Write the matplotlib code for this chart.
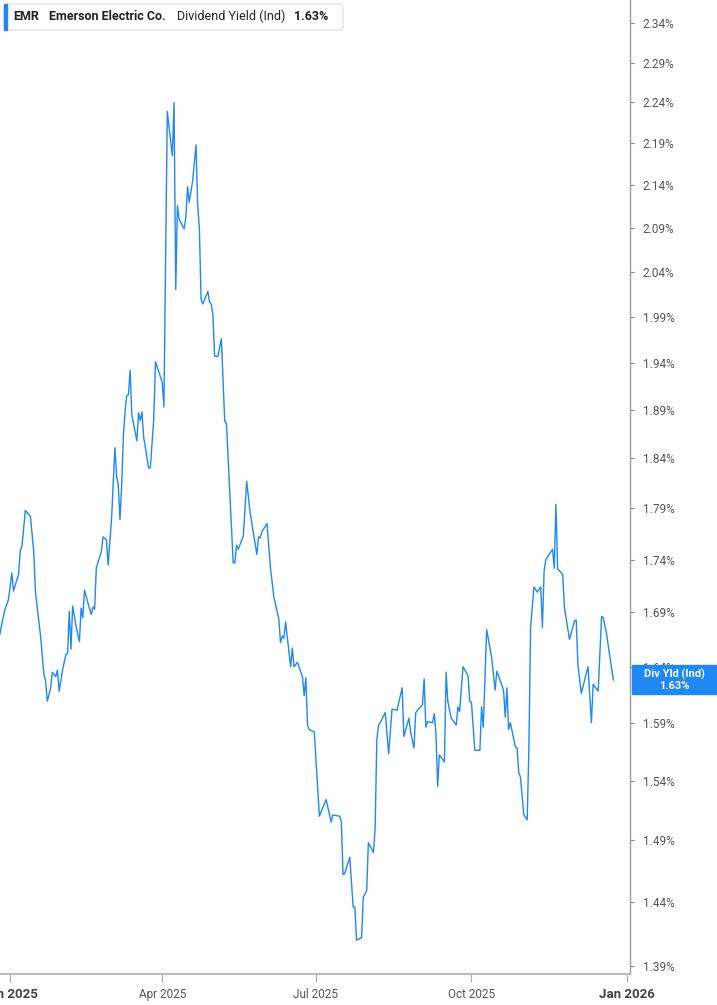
import matplotlib
matplotlib.use("Agg")
import matplotlib.pyplot as plt
import matplotlib.dates as mdates
from matplotlib.ticker import FixedLocator, FuncFormatter, NullLocator
from matplotlib.patches import FancyBboxPatch, Rectangle
import pandas as pd

plt.rcParams['font.family'] = ['Roboto', 'DejaVu Sans']

dates = [
    "2024-12-26", "2024-12-27", "2024-12-29", "2024-12-31", "2025-01-02", "2025-01-03",
    "2025-01-06", "2025-01-07", "2025-01-08", "2025-01-10", "2025-01-13", "2025-01-15",
    "2025-01-16", "2025-01-19", "2025-01-21", "2025-01-22", "2025-01-23", "2025-01-25",
    "2025-01-26", "2025-01-28", "2025-01-29", "2025-01-30", "2025-02-01", "2025-02-03",
    "2025-02-04", "2025-02-05", "2025-02-06", "2025-02-07", "2025-02-09", "2025-02-11",
    "2025-02-12", "2025-02-13", "2025-02-14", "2025-02-16", "2025-02-18", "2025-02-19",
    "2025-02-20", "2025-02-21", "2025-02-24", "2025-02-25", "2025-02-27", "2025-02-28",
    "2025-03-02", "2025-03-04", "2025-03-05", "2025-03-06", "2025-03-07", "2025-03-08",
    "2025-03-09", "2025-03-10", "2025-03-11", "2025-03-12", "2025-03-13", "2025-03-14",
    "2025-03-17", "2025-03-18", "2025-03-19", "2025-03-20", "2025-03-21", "2025-03-24",
    "2025-03-25", "2025-03-27", "2025-03-28", "2025-04-01", "2025-04-02", "2025-04-04",
    "2025-04-07", "2025-04-08", "2025-04-09", "2025-04-10", "2025-04-11", "2025-04-14",
    "2025-04-15", "2025-04-16", "2025-04-17", "2025-04-19", "2025-04-21", "2025-04-22",
    "2025-04-23", "2025-04-24", "2025-04-25", "2025-04-28", "2025-04-29", "2025-04-30",
    "2025-05-01", "2025-05-02", "2025-05-04", "2025-05-06", "2025-05-08", "2025-05-09",
    "2025-05-13", "2025-05-14", "2025-05-15", "2025-05-16", "2025-05-19", "2025-05-21",
    "2025-05-23", "2025-05-27", "2025-05-28", "2025-05-29", "2025-05-30", "2025-06-02",
    "2025-06-04", "2025-06-06", "2025-06-09", "2025-06-10", "2025-06-11", "2025-06-12",
    "2025-06-13", "2025-06-16", "2025-06-17", "2025-06-18", "2025-06-20", "2025-06-23",
    "2025-06-24", "2025-06-25", "2025-06-26", "2025-06-27", "2025-06-30", "2025-07-03",
    "2025-07-07", "2025-07-10", "2025-07-11", "2025-07-15", "2025-07-16", "2025-07-17",
    "2025-07-18", "2025-07-21", "2025-07-23", "2025-07-24", "2025-07-25", "2025-07-28",
    "2025-07-29", "2025-07-31", "2025-08-01", "2025-08-04", "2025-08-05", "2025-08-06",
    "2025-08-07", "2025-08-08", "2025-08-11", "2025-08-13", "2025-08-15", "2025-08-18",
    "2025-08-19", "2025-08-21", "2025-08-22", "2025-08-25", "2025-08-26", "2025-08-28",
    "2025-08-29", "2025-09-02", "2025-09-03", "2025-09-04", "2025-09-05", "2025-09-08",
    "2025-09-09", "2025-09-10", "2025-09-11", "2025-09-12", "2025-09-15", "2025-09-16",
    "2025-09-17", "2025-09-19", "2025-09-22", "2025-09-23", "2025-09-24", "2025-09-26",
    "2025-09-29", "2025-09-30", "2025-10-01", "2025-10-03", "2025-10-06", "2025-10-07",
    "2025-10-08", "2025-10-10", "2025-10-13", "2025-10-15", "2025-10-16", "2025-10-20",
    "2025-10-21", "2025-10-22", "2025-10-23", "2025-10-24", "2025-10-27", "2025-10-28",
    "2025-10-29", "2025-10-30", "2025-11-01", "2025-11-03", "2025-11-04", "2025-11-05",
    "2025-11-07", "2025-11-09", "2025-11-11", "2025-11-12", "2025-11-13", "2025-11-14",
    "2025-11-18", "2025-11-19", "2025-11-20", "2025-11-21", "2025-11-24", "2025-11-25",
    "2025-11-28", "2025-12-01", "2025-12-02", "2025-12-03", "2025-12-05", "2025-12-09",
    "2025-12-11", "2025-12-12", "2025-12-15", "2025-12-17", "2025-12-18", "2025-12-20",
    "2025-12-22", "2025-12-24",
]

yield_pct = [
    1.670, 1.679, 1.693, 1.702, 1.727, 1.710,
    1.726, 1.749, 1.753, 1.788, 1.782, 1.747,
    1.709, 1.668, 1.633, 1.627, 1.609, 1.621,
    1.635, 1.631, 1.637, 1.618, 1.637, 1.651,
    1.652, 1.691, 1.656, 1.696, 1.677, 1.663,
    1.694, 1.685, 1.711, 1.699, 1.688, 1.695,
    1.693, 1.732, 1.748, 1.762, 1.759, 1.735,
    1.779, 1.851, 1.822, 1.813, 1.779, 1.812,
    1.863, 1.888, 1.905, 1.906, 1.932, 1.885,
    1.858, 1.887, 1.879, 1.888, 1.862, 1.830,
    1.831, 1.881, 1.941, 1.919, 1.893, 2.229,
    2.175, 2.240, 2.020, 2.116, 2.100, 2.089,
    2.103, 2.138, 2.120, 2.145, 2.188, 2.116,
    2.089, 2.009, 2.004, 2.018, 2.006, 2.004,
    1.992, 1.947, 1.947, 1.966, 1.878, 1.876,
    1.737, 1.737, 1.754, 1.750, 1.763, 1.817,
    1.786, 1.745, 1.762, 1.761, 1.767, 1.775,
    1.733, 1.705, 1.684, 1.662, 1.668, 1.666,
    1.681, 1.640, 1.657, 1.640, 1.644, 1.631,
    1.614, 1.630, 1.588, 1.584, 1.582, 1.510,
    1.524, 1.505, 1.511, 1.510, 1.505, 1.462,
    1.463, 1.476, 1.436, 1.436, 1.410, 1.412,
    1.444, 1.449, 1.488, 1.480, 1.500, 1.575,
    1.588, 1.590, 1.599, 1.563, 1.602, 1.601,
    1.608, 1.621, 1.578, 1.594, 1.582, 1.568,
    1.599, 1.606, 1.629, 1.586, 1.591, 1.590,
    1.598, 1.580, 1.535, 1.562, 1.556, 1.635,
    1.609, 1.594, 1.588, 1.604, 1.600, 1.640,
    1.632, 1.609, 1.608, 1.566, 1.566, 1.604,
    1.586, 1.674, 1.648, 1.619, 1.636, 1.619,
    1.595, 1.621, 1.584, 1.590, 1.569, 1.568,
    1.547, 1.543, 1.511, 1.507, 1.569, 1.676,
    1.714, 1.709, 1.714, 1.676, 1.729, 1.740,
    1.750, 1.732, 1.794, 1.731, 1.726, 1.695,
    1.665, 1.682, 1.683, 1.642, 1.616, 1.640,
    1.590, 1.624, 1.618, 1.686, 1.685, 1.670,
    1.648, 1.628,
]

y_ticks = [1.39, 1.44, 1.49, 1.54, 1.59, 1.64, 1.69, 1.74, 1.79, 1.84,
           1.89, 1.94, 1.99, 2.04, 2.09, 2.14, 2.19, 2.24, 2.29, 2.34]
x_ticks = ["2025-01-01", "2025-04-01", "2025-07-01", "2025-10-01", "2026-01-01"]
x_tick_labels = ["Jan 2025", "Apr 2025", "Jul 2025", "Oct 2025", "Jan 2026"]
last_value = 1.63
line_color = "#1E88F5"

W, H = 717, 1005
fig = plt.figure(figsize=(W / 100, H / 100), dpi=100)
ax = fig.add_axes([0, 31 / H, 630 / W, 1 - 31 / H])

x = pd.to_datetime(dates)
ax.plot(x, yield_pct, color=line_color, lw=1.0)

ax.set_yscale('log')
ax.set_ylim(1.3839, 2.3705)
ax.set_xlim(pd.Timestamp("2024-12-26"), pd.Timestamp("2026-01-02 20:00"))

ax.yaxis.tick_right()
ax.yaxis.set_major_locator(FixedLocator(y_ticks))
ax.yaxis.set_minor_locator(NullLocator())
ax.yaxis.set_major_formatter(FuncFormatter(lambda v, p: f"{v:.2f}%"))
ax.tick_params(axis='y', length=3, width=0.8, color="#888888", labelcolor="#555555",
               labelsize=8.5, pad=6)

ax.set_xticks(pd.to_datetime(x_ticks))
ax.set_xticklabels(x_tick_labels)
ax.tick_params(axis='x', length=6, width=0.8, color="#aaaaaa", labelcolor="#555555",
               labelsize=8.5, pad=4)
for i, lab in enumerate(ax.get_xticklabels()):
    if x_tick_labels[i].startswith("Jan"):
        lab.set_fontweight('bold')
        lab.set_color("#444444")
        lab.set_fontsize(9.5)

for s in ['top', 'left']:
    ax.spines[s].set_visible(False)
ax.spines['right'].set_color("#999999")
ax.spines['bottom'].set_color("#bbbbbb")
ax.spines['bottom'].set_linewidth(1.5)
ax.spines['right'].set_linewidth(1.0)

# last value label on the right
fig.patches.append(Rectangle((632 / W, 1 - 694 / H), 85 / W, 29 / H,
                             transform=fig.transFigure, color=line_color, zorder=5))
fig.text(674 / W, 1 - 674 / H, "Div Yld (Ind)", color="white", fontsize=8,
         fontweight='bold', ha='center', va='center', zorder=6)
fig.text(674 / W, 1 - 686 / H, f"{last_value:.2f}%", color="white", fontsize=8,
         fontweight='bold', ha='center', va='center', zorder=6)

# legend box top-left
fig.patches.append(FancyBboxPatch((4 / W, 1 - 30 / H), 339 / W, 26 / H,
                                  boxstyle="round,pad=0,rounding_size=0.004",
                                  transform=fig.transFigure, facecolor="white",
                                  edgecolor="#e3e3e3", lw=1.0, zorder=5))
fig.patches.append(Rectangle((4 / W, 1 - 30 / H), 3 / W, 26 / H,
                             transform=fig.transFigure, color=line_color, zorder=6))
ty = 1 - 16 / H
fig.text(13 / W, ty, "EMR", fontsize=9, fontweight='bold', color="#222222",
         va='center', zorder=7)
fig.text(49 / W, ty, "Emerson Electric Co.", fontsize=9, fontweight='bold',
         color="#222222", va='center', zorder=7)
fig.text(177 / W, ty, "Dividend Yield (Ind)", fontsize=9, color="#222222",
         va='center', zorder=7)
fig.text(294 / W, ty, f"{last_value:.2f}%", fontsize=9, fontweight='bold',
         color="#222222", va='center', zorder=7)

fig.savefig("out.png", dpi=100)
